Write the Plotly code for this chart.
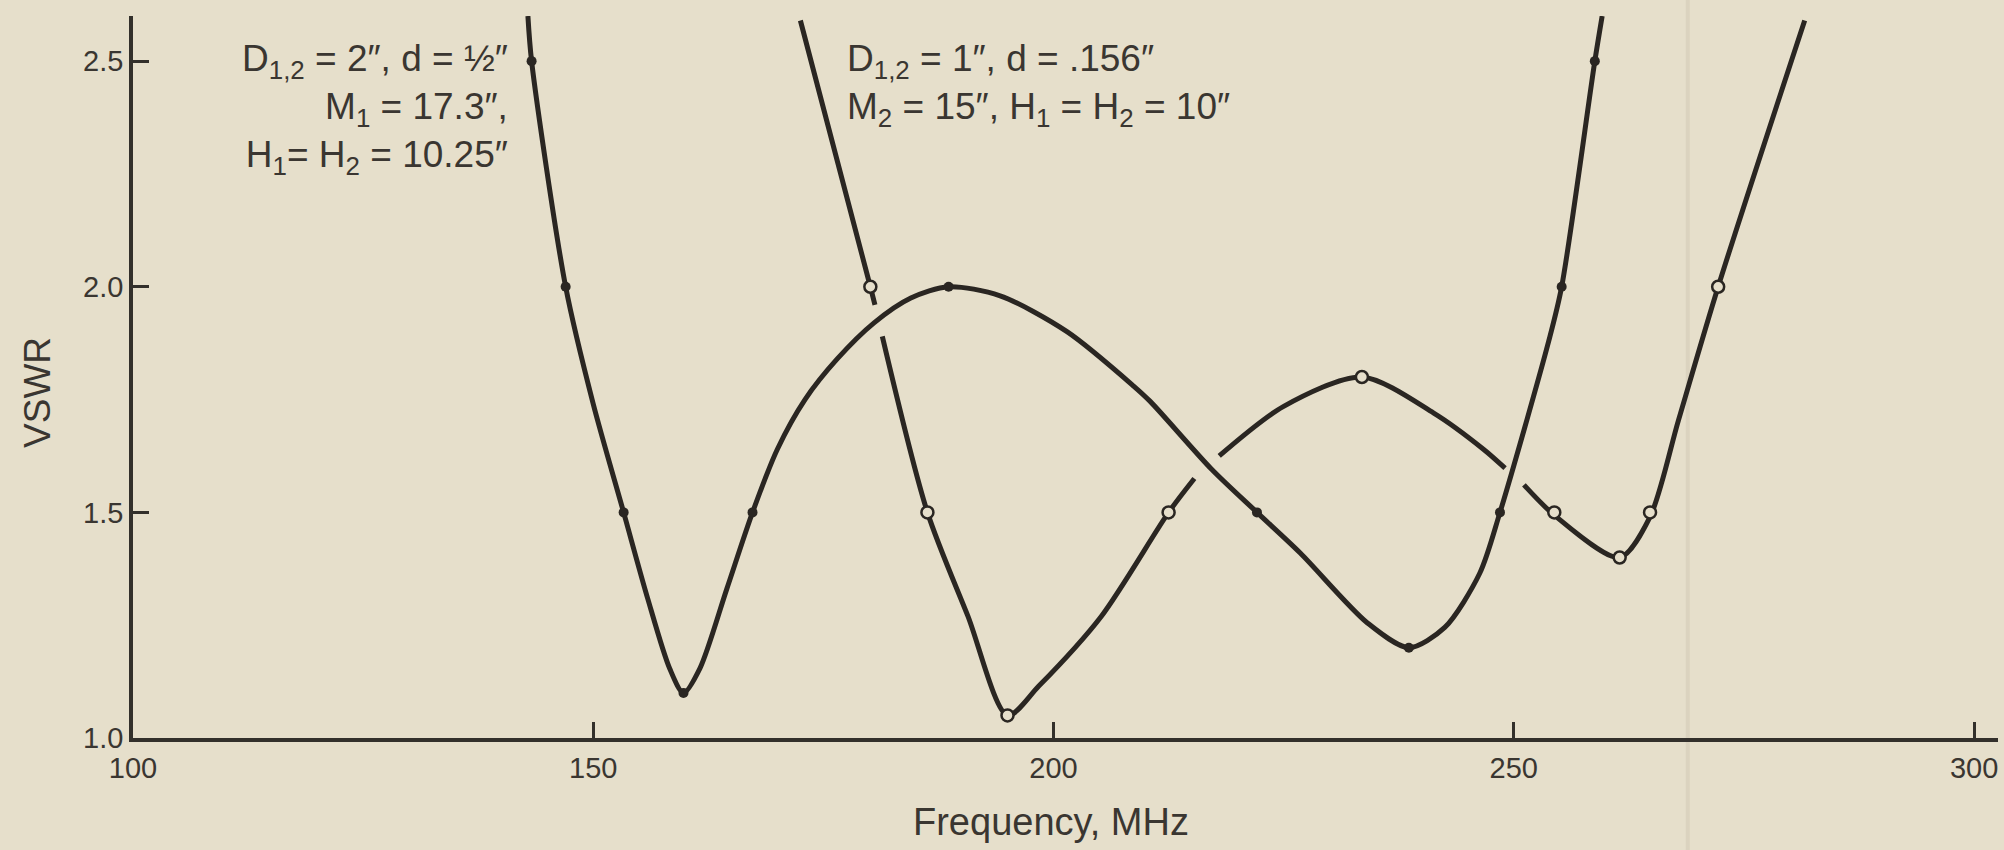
import plotly.graph_objects as go

# ---------------- data ----------------
# Curve A : D1,2 = 2", d = 1/2"  (solid dots)
a_curve_f = [142.9, 143.3, 147.0, 150.0, 153.3, 155.9, 158.3, 159.8, 161.6, 164.5,
             167.3, 170.0, 173.0, 176.5, 180.5, 184.5, 188.6, 194.2, 201.5, 208.7,
             210.5, 217.2, 222.1, 226.8, 234.1, 238.6, 242.5, 246.3, 248.5, 253.8,
             255.2, 258.8, 259.6]
a_curve_v = [2.60, 2.50, 2.00, 1.74, 1.50, 1.31, 1.154, 1.10, 1.155, 1.33,
             1.50, 1.64, 1.75, 1.84, 1.92, 1.975, 2.00, 1.98, 1.90, 1.78,
             1.746, 1.595, 1.50, 1.41, 1.255, 1.20, 1.245, 1.365, 1.50, 1.88,
             2.00, 2.50, 2.60]
a_mark_f = [143.3, 147.0, 153.3, 159.8, 167.3, 188.6, 222.1, 238.6, 248.5, 255.2, 258.8]
a_mark_v = [2.50, 2.00, 1.50, 1.10, 1.50, 2.00, 1.50, 1.20, 1.50, 2.00, 2.50]

# Curve B : D1,2 = 1", d = .156"  (open circles); broken where it passes under curve A
b_curve_f = [172.5, 180.1, 180.6, None,
             181.4, 186.3, 190.7, 195.0, 198.4, 205.2, 212.5, 215.3, None,
             218.0, 225.0, 233.5, 241.3, 246.7, 249.05, None,
             251.1, 254.4, 261.5, 264.8, 267.9, 272.2, 281.6]
b_curve_v = [2.59, 2.00, 1.96, None,
             1.89, 1.50, 1.27, 1.05, 1.115, 1.27, 1.50, 1.575, None,
             1.625, 1.735, 1.80, 1.72, 1.64, 1.598, None,
             1.561, 1.494, 1.40, 1.49, 1.705, 2.00, 2.59]
b_mark_f = [180.1, 186.3, 195.0, 212.5, 233.5, 254.4, 261.5, 264.8, 272.2]
b_mark_v = [2.00, 1.50, 1.05, 1.50, 1.80, 1.50, 1.40, 1.50, 2.00]

x_ticks = [100, 150, 200, 250, 300]
x_ticklabels = ["100", "150", "200", "250", "300"]
y_ticks = [1.0, 1.5, 2.0, 2.5]
y_ticklabels = ["1.0", "1.5", "2.0", "2.5"]

label_a = ["D<sub>1,2</sub> = 2″, d = ½″", "M<sub>1</sub> = 17.3″,",
           "H<sub>1</sub>= H<sub>2</sub> = 10.25″"]
label_b = ["D<sub>1,2</sub> = 1″, d = .156″",
           "M<sub>2</sub> = 15″, H<sub>1</sub> = H<sub>2</sub> = 10″"]

# ---------------- style ----------------
BG = "#e6dfcb"
INK = "#2a2622"
TXT = "#3a3631"
AXC = "#33302b"
FONT = "Liberation Sans, Arial, sans-serif"

fig = go.Figure()

fig.add_trace(go.Scatter(x=a_curve_f, y=a_curve_v, mode="lines",
                         line=dict(color=INK, width=5, shape="spline", smoothing=0.8),
                         hoverinfo="skip", showlegend=False))
fig.add_trace(go.Scatter(x=b_curve_f, y=b_curve_v, mode="lines", connectgaps=False,
                         line=dict(color=INK, width=5, shape="spline", smoothing=0.8),
                         hoverinfo="skip", showlegend=False))
fig.add_trace(go.Scatter(x=a_mark_f, y=a_mark_v, mode="markers",
                         marker=dict(color=INK, size=10, symbol="circle"),
                         name="D1,2 = 2\", d = 1/2\"", showlegend=False))
fig.add_trace(go.Scatter(x=b_mark_f, y=b_mark_v, mode="markers",
                         marker=dict(color=BG, size=12, symbol="circle",
                                     line=dict(color=INK, width=2.5)),
                         name="D1,2 = 1\", d = .156\"", showlegend=False))

ann_font = dict(family=FONT, size=37, color=TXT)
title_font = dict(family=FONT, size=38, color=TXT)
annotations = [
    dict(x=140.9, y=2.556, xref="x", yref="y", xanchor="right", yanchor="top", align="right",
         text="<br>".join(label_a), showarrow=False, font=ann_font),
    dict(x=177.3, y=2.556, xref="x", yref="y", xanchor="left", yanchor="top", align="left",
         text="<br>".join(label_b), showarrow=False, font=ann_font),
    # axis titles
    dict(x=0.4922, y=-0.117, xref="paper", yref="paper", xanchor="center", yanchor="middle",
         text="Frequency, MHz", showarrow=False, font=title_font),
    dict(x=-0.0509, y=0.478, xref="paper", yref="paper", xanchor="center", yanchor="middle",
         text="VSWR", textangle=-90, showarrow=False, font=dict(family=FONT, size=37, color=TXT)),
]

# faint paper fold in the scan
fig.add_shape(type="line", xref="x", yref="paper", x0=268.9, x1=268.9, y0=-0.2, y1=1.05,
              line=dict(color="#dbd3bf", width=4), layer="below")

fig.update_layout(
    width=2004, height=850,
    paper_bgcolor=BG, plot_bgcolor=BG,
    margin=dict(l=133, r=6, t=16, b=112),
    font=dict(family=FONT, color=TXT),
    annotations=annotations,
    xaxis=dict(range=[100, 302.6], tickmode="array", tickvals=x_ticks, ticktext=x_ticklabels,
               showgrid=False, zeroline=False, showline=True, linecolor=AXC, linewidth=3.5,
               ticks="inside", ticklen=16, tickwidth=3, tickcolor=AXC,
               tickfont=dict(family=FONT, size=29, color=TXT), ticklabelstandoff=1),
    yaxis=dict(range=[1.0, 2.6], tickmode="array", tickvals=y_ticks, ticktext=y_ticklabels,
               showgrid=False, zeroline=False, showline=True, linecolor=AXC, linewidth=3.5,
               ticks="inside", ticklen=16, tickwidth=3, tickcolor=AXC,
               tickfont=dict(family=FONT, size=29, color=TXT), ticklabelstandoff=0),
)

fig.write_html("out.html", config={"displayModeBar": False},
               post_script="document.body.style.margin='0px';")
